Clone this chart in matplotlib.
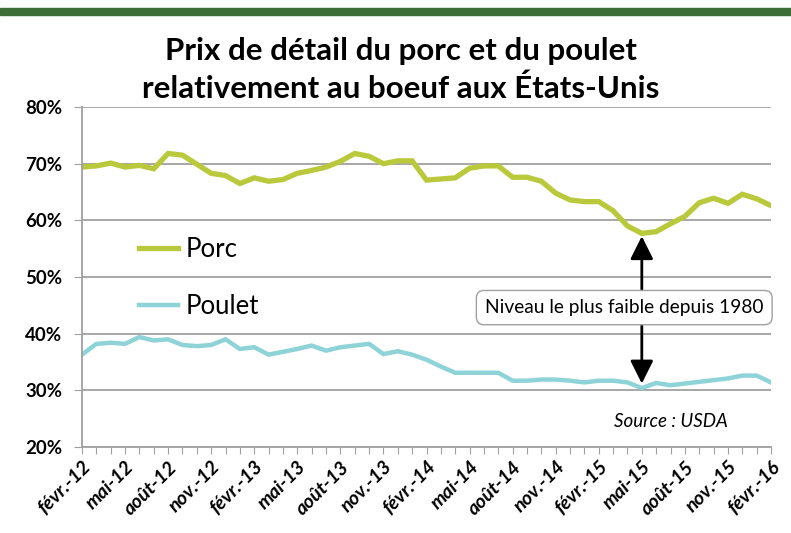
import matplotlib
matplotlib.use("Agg")
import matplotlib.pyplot as plt
from matplotlib.patches import Rectangle
from matplotlib.ticker import FuncFormatter

plt.rcParams['font.family'] = ['Lato', 'DejaVu Sans']

# monthly values, févr.-12 .. févr.-16 (% of beef retail price)
porc = [69.4, 69.6, 70.1, 69.4, 69.7, 69.1, 71.8, 71.5, 69.9, 68.3,
        67.9, 66.5, 67.5, 66.9, 67.2, 68.3, 68.8, 69.4, 70.4, 71.8,
        71.3, 70.0, 70.5, 70.5, 67.1, 67.3, 67.5, 69.2, 69.6, 69.6,
        67.6, 67.6, 66.9, 64.8, 63.6, 63.3, 63.3, 61.7, 59.0, 57.7,
        58.0, 59.4, 60.7, 63.1, 63.9, 63.0, 64.6, 63.8, 62.6]
poulet = [36.3, 38.2, 38.4, 38.2, 39.4, 38.8, 39.0, 38.0, 37.8, 38.0,
          39.0, 37.3, 37.6, 36.3, 36.8, 37.3, 37.9, 37.0, 37.6, 37.9,
          38.2, 36.4, 36.9, 36.3, 35.4, 34.2, 33.1, 33.1, 33.1, 33.1,
          31.7, 31.7, 31.9, 31.9, 31.7, 31.4, 31.7, 31.7, 31.4, 30.4,
          31.3, 30.9, 31.2, 31.5, 31.8, 32.1, 32.6, 32.6, 31.4]
tick_labels = ["févr.-12", "mai-12", "août-12", "nov.-12",
               "févr.-13", "mai-13", "août-13", "nov.-13",
               "févr.-14", "mai-14", "août-14", "nov.-14",
               "févr.-15", "mai-15", "août-15", "nov.-15", "févr.-16"]
min_idx = 39  # mai-15


def main():
    fig = plt.figure(figsize=(7.91, 5.33), dpi=100)
    fig.patches.append(Rectangle((0, 1 - 15 / 533), 1, 7 / 533, transform=fig.transFigure,
                                 color='#3d6e35', zorder=0))
    ax = fig.add_axes([82 / 791, 1 - 447 / 533, 689 / 791, 340 / 533])

    x = list(range(len(porc)))
    ax.plot(x, porc, color='#b9c93b', lw=3.8, label='Porc', solid_joinstyle='miter')
    ax.plot(x, poulet, color='#8dd3d7', lw=3.2, label='Poulet', solid_joinstyle='miter')

    ax.set_xlim(0, len(porc) - 1)
    ax.set_ylim(20, 80)
    ax.set_yticks(range(20, 81, 10))
    ax.yaxis.set_major_formatter(FuncFormatter(lambda v, p: "%d%%" % v))
    ax.grid(axis='y', color='#a0a0a0', lw=1.3)
    ax.set_axisbelow(True)

    ax.set_xticks(x)
    labels = ['' for i in x]
    for k, lab in enumerate(tick_labels):
        labels[k * 3] = lab
    ax.set_xticklabels(labels, rotation=45, ha='right', rotation_mode='anchor',
                       fontsize=14, fontweight='bold', fontstyle='italic')
    for t in ax.get_yticklabels():
        t.set_fontsize(13.5)
        t.set_fontweight('bold')
    ax.tick_params(axis='x', length=5, color='#a0a0a0', pad=3)
    ax.tick_params(axis='y', length=6, color='#a0a0a0', pad=8)

    for s in ['top', 'right']:
        ax.spines[s].set_visible(False)
    for s in ['left', 'bottom']:
        ax.spines[s].set_color('#a0a0a0')
        ax.spines[s].set_linewidth(1.3)

    ax.legend(loc='upper left', bbox_to_anchor=(0.068, 0.648), frameon=False,
              fontsize=18.5, handlelength=1.5, handletextpad=0.3, labelspacing=1.25,
              borderaxespad=0)

    ax.annotate('', xy=(min_idx, 57.2), xytext=(min_idx, 31.2),
                arrowprops=dict(arrowstyle='<|-|>,head_length=0.7,head_width=0.35',
                                color='black', lw=2, mutation_scale=20,
                                shrinkA=0, shrinkB=0))
    ax.text(0.787, 0.41, 'Niveau le plus faible depuis 1980', transform=ax.transAxes,
            ha='center', va='center', fontsize=13.8, zorder=5, clip_on=False,
            bbox=dict(boxstyle='round,pad=0.45,rounding_size=0.4', fc='white',
                      ec='#a0a0a0', lw=1))

    ax.text(0.855, 0.076, 'Source : USDA', transform=ax.transAxes, ha='center',
            va='center', fontsize=13.5, fontstyle='italic')

    fig.text(401 / 791, 1 - 51 / 533, 'Prix de détail du porc et du poulet',
             ha='center', va='center', fontsize=22.5, fontweight='bold')
    fig.text(401 / 791, 1 - 89 / 533, 'relativement au boeuf aux États-Unis',
             ha='center', va='center', fontsize=22.5, fontweight='bold')

    fig.savefig('out.png', dpi=100)


if __name__ == "__main__":
    main()
